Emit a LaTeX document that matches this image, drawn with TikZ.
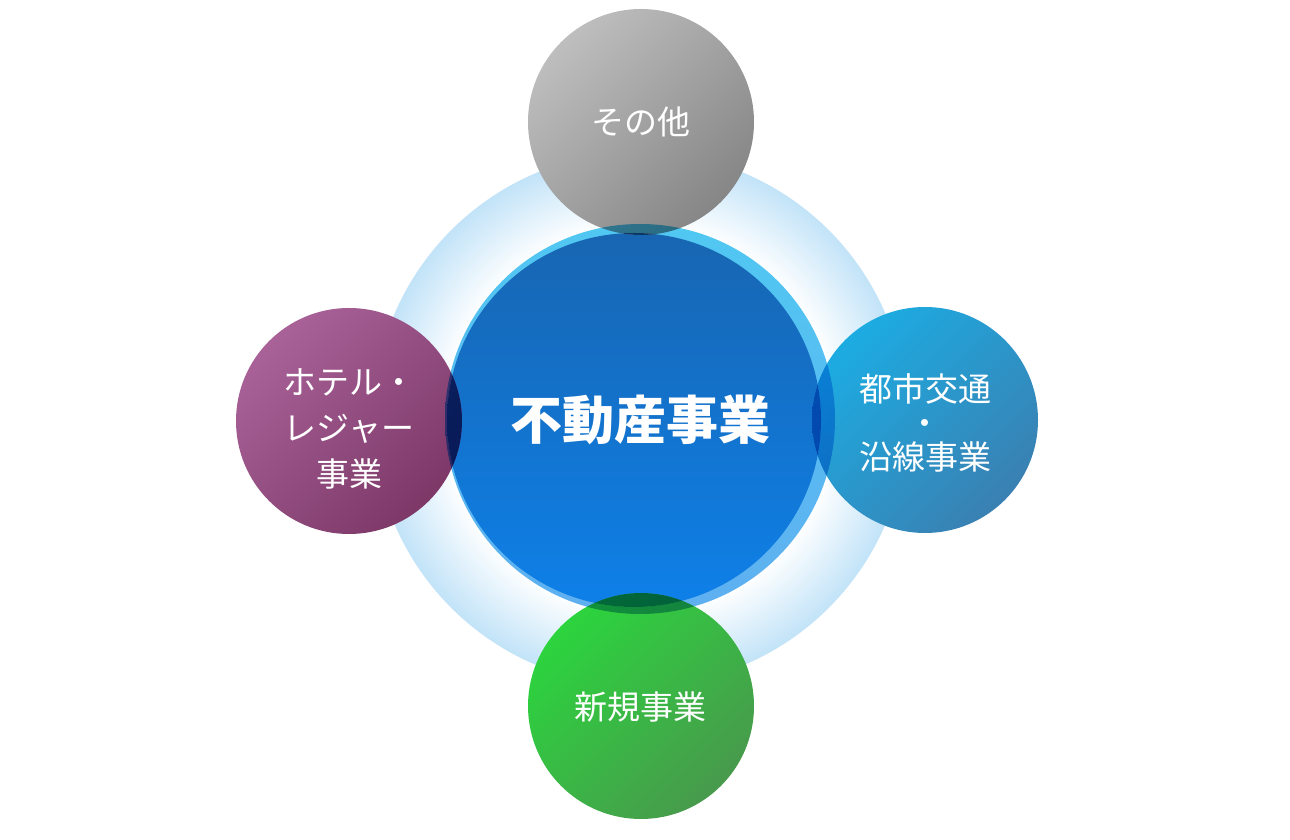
\documentclass[tikz,border=0pt]{standalone}
\usepackage{fontspec}
\newfontfamily\jpfont{Noto Sans CJK JP}
\usetikzlibrary{positioning}

\definecolor{haloblue}{RGB}{194,227,248}
\definecolor{ringtop}{RGB}{80,200,242}
\definecolor{ringbot}{RGB}{95,175,240}
\definecolor{coretop}{RGB}{24,102,178}
\definecolor{corebot}{RGB}{14,128,232}
\definecolor{grayhi}{RGB}{190,190,190}
\definecolor{graylo}{RGB}{134,134,134}
\definecolor{purphi}{RGB}{168,98,152}
\definecolor{purplo}{RGB}{125,56,104}
\definecolor{bluehi}{RGB}{28,172,226}
\definecolor{bluelo}{RGB}{58,128,178}
\definecolor{greenhi}{RGB}{44,212,62}
\definecolor{greenlo}{RGB}{72,154,76}

\pgfdeclareradialshading{halo}{\pgfpoint{0bp}{0bp}}{color(0bp)=(white); color(18bp)=(white); color(25bp)=(haloblue); color(50bp)=(haloblue)}

\tikzset{
  disc/.style={circle, inner sep=0pt, minimum size=#1},
  sat/.style 2 args={disc=113pt, top color=#1, middle color=#2, bottom color=#2, shading angle=45},
  satlabel/.style={text=white, align=center, font=\jpfont\fontsize{16.5}{23}\selectfont}
}

\begin{document}
\begin{tikzpicture}[x=0.5pt, y=0.5pt]
    \useasboundingbox[fill=white] (0,0) rectangle (1290,840);

    % Glow
    \shade[shading=halo] (640,421) circle (267);

    % Core
    \node[disc=195pt, top color=ringtop, bottom color=ringbot] (ring) at (640,421) {};
    \node[disc=187pt, top color=coretop, bottom color=corebot] (core) at (634,420) {};
    \node[text=white, font=\jpfont\bfseries\fontsize{26}{30}\selectfont] (coretext) at (640,420) {不動産事業};

    % Satellites
    \node[sat={grayhi}{graylo}] (other) at (641,718) {};
    \node[sat={purphi}{purplo}] (hotel) at (349,419) {};
    \node[sat={bluehi}{bluelo}] (transit) at (925,420) {};
    \node[sat={greenhi}{greenlo}] (newbiz) at (641,134) {};

    % Overlaps
    \foreach \s in {other,hotel,transit,newbiz} {
        \begin{scope}[blend mode=multiply]
            \clip (\s) circle (113);
            \shade[even odd rule, top color=ringtop, bottom color=ringbot] (ring) circle (195) (core) circle (187);
            \shade[top color=coretop, bottom color=corebot] (core) circle (187);
        \end{scope}
    }

    \node[satlabel] (othertext) at (641,718) {その他};
    \node[satlabel] (hoteltext) at (349,411) {ホテル・\\レジャー\\事業};
    \node[satlabel, font=\jpfont\fontsize{16.5}{16.8}\selectfont] (transittext) at (925,417) {都市交通\\・\\沿線事業};
    \node[satlabel] (newbiztext) at (640,133) {新規事業};
\end{tikzpicture}
\end{document}
